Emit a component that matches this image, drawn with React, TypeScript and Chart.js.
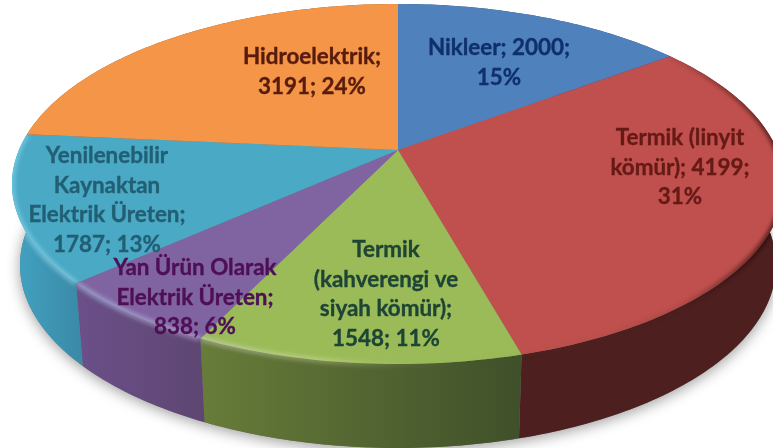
import React, { useEffect, useRef } from "react";
import { Chart, registerables } from "chart.js";

Chart.register(...registerables);

const categories = ["Nikleer", "Termik (linyit kömür)", "Termik (kahverengi ve siyah kömür)", "Yan Ürün Olarak Elektrik Üreten", "Yenilenebilir Kaynaktan Elektrik Üreten", "Hidroelektrik"];
const values = [2000, 4199, 1548, 838, 1787, 3191];
const labelLines = [
  ["Nikleer; 2000;", "15%"],
  ["Termik (linyit", "kömür); 4199;", "31%"],
  ["Termik", "(kahverengi ve", "siyah kömür);", "1548; 11%"],
  ["Yan Ürün Olarak", "Elektrik Üreten;", "838; 6%"],
  ["Yenilenebilir", "Kaynaktan", "Elektrik Üreten;", "1787; 13%"],
  ["Hidroelektrik;", "3191; 24%"],
];

const faceColors = ["#4f81bd", "#c0504d", "#9bbb59", "#8064a2", "#4aa9c5", "#f59547"];
const rimColors = [["#2f4d71", "#2f4d71"], ["#4e1f1f", "#4e1f1f"], ["#677c39", "#40502a"], ["#6a4f88", "#5e4672"], ["#41a0bf", "#3a89a6"], ["#93592a", "#93592a"]];
const textColors = ["#10306b", "#661a16", "#1e4436", "#4e0f55", "#235f74", "#581c0e"];
const labelAnchors = [[499, 48], [680, 138], [386, 250], [195, 268], [107, 156], [312, 57]];
const lineHeight = 29.5;

const TOP = { cx: 398, cy: 184, rx: 386, ry: 180 };
const BOTTOM = { cx: 398, cy: 265, rx: 378, ry: 183 };
const TILT = -0.189;

function project(e: typeof TOP, angle: number): [number, number] {
  const u = Math.cos(angle);
  const v = Math.sin(angle);
  const d = 1 + TILT * v;
  return [e.cx + (e.rx * u * Math.sqrt(1 - TILT * TILT)) / d, e.cy + (e.ry * (v + TILT)) / d];
}

function arcPoints(e: typeof TOP, a0: number, a1: number) {
  const n = Math.max(4, Math.ceil(Math.abs(a1 - a0) * 60));
  const pts: [number, number][] = [];
  for (let i = 0; i <= n; i++) pts.push(project(e, a0 + ((a1 - a0) * i) / n));
  return pts;
}

function trace(ctx: CanvasRenderingContext2D, pts: [number, number][]) {
  pts.forEach((p, i) => (i ? ctx.lineTo(p[0], p[1]) : ctx.moveTo(p[0], p[1])));
}

const pie3d = {
  id: "pie3d",
  beforeDatasetsDraw(chart: any) {
    const ctx: CanvasRenderingContext2D = chart.ctx;
    const arcs = chart.getDatasetMeta(0).data as any[];
    const hub: [number, number] = [TOP.cx, TOP.cy + TOP.ry * TILT];

    // soft shadow under the disc
    ctx.save();
    ctx.shadowColor = "rgba(0,0,0,0.38)";
    ctx.shadowBlur = 14;
    ctx.shadowOffsetY = 3;
    ctx.fillStyle = "#777";
    ctx.beginPath();
    trace(ctx, arcPoints(BOTTOM, 0, Math.PI * 2));
    ctx.closePath();
    ctx.fill();
    ctx.restore();

    // side wall
    arcs.forEach((arc, i) => {
      const up = arcPoints(TOP, arc.startAngle, arc.endAngle);
      const low = arcPoints(BOTTOM, arc.startAngle, arc.endAngle);
      const xs = low.map((p) => p[0]);
      const g = ctx.createLinearGradient(Math.min(...xs), 0, Math.max(...xs), 0);
      g.addColorStop(0, rimColors[i][0]);
      g.addColorStop(1, rimColors[i][1]);
      ctx.fillStyle = g;
      ctx.beginPath();
      trace(ctx, up);
      low.reverse().forEach((p) => ctx.lineTo(p[0], p[1]));
      ctx.closePath();
      ctx.fill();
    });

    // top face
    arcs.forEach((arc, i) => {
      ctx.fillStyle = faceColors[i];
      ctx.beginPath();
      ctx.moveTo(hub[0], hub[1]);
      arcPoints(TOP, arc.startAngle, arc.endAngle).forEach((p) => ctx.lineTo(p[0], p[1]));
      ctx.closePath();
      ctx.fill();
    });

    // bevel along the front edge
    arcs.forEach((arc, i) => {
      if (i === 0 || i === 5) return;
      const up = arcPoints(TOP, arc.startAngle, arc.endAngle);
      const low = arcPoints(BOTTOM, arc.startAngle, arc.endAngle);
      ctx.save();
      ctx.beginPath();
      ctx.moveTo(hub[0], hub[1]);
      up.forEach((p) => ctx.lineTo(p[0], p[1]));
      ctx.closePath();
      trace(ctx, up);
      low.slice().reverse().forEach((p) => ctx.lineTo(p[0], p[1]));
      ctx.closePath();
      ctx.clip();
      const g = ctx.createLinearGradient(0, 0, 773, 0);
      g.addColorStop(0, "rgba(150,235,255,0.5)");
      g.addColorStop(0.26, "rgba(235,225,255,0.38)");
      g.addColorStop(0.42, "rgba(245,255,190,0.3)");
      g.addColorStop(0.6, "rgba(120,120,60,0)");
      g.addColorStop(0.88, "rgba(40,10,10,0.12)");
      g.addColorStop(1, "rgba(30,5,5,0.7)");
      ctx.strokeStyle = g;
      ctx.lineWidth = 5;
      ctx.filter = "blur(2px)";
      ctx.beginPath();
      trace(ctx, up);
      ctx.stroke();
      ctx.restore();
    });
    return false;
  },
  afterDraw(chart: any) {
    const ctx: CanvasRenderingContext2D = chart.ctx;
    ctx.save();
    ctx.font = "bold 22.4px Lato, 'Open Sans', sans-serif";
    ctx.textAlign = "center";
    ctx.textBaseline = "middle";
    ctx.lineWidth = 0.35;
    labelLines.forEach((lines, i) => {
      ctx.fillStyle = textColors[i];
      ctx.strokeStyle = textColors[i];
      lines.forEach((line, k) => {
        const x = labelAnchors[i][0];
        const y = labelAnchors[i][1] + k * lineHeight;
        ctx.fillText(line, x, y);
        ctx.strokeText(line, x, y);
      });
    });
    ctx.restore();
  },
};

export default function App() {
  const ref = useRef<HTMLCanvasElement>(null);
  useEffect(() => {
    const chart = new Chart(ref.current!, {
      type: "pie",
      data: { labels: categories, datasets: [{ data: values, backgroundColor: faceColors, borderWidth: 0 }] },
      options: {
        animation: false,
        responsive: false,
        plugins: { legend: { display: false }, tooltip: { enabled: false } },
      },
      plugins: [pie3d],
    } as any);
    return () => chart.destroy();
  }, []);
  return (
    <canvas
      ref={ref}
      width={773}
      height={448}
      style={{ position: "absolute", left: 0, top: 0, width: 773, height: 448, display: "block" }}
    />
  );
}
